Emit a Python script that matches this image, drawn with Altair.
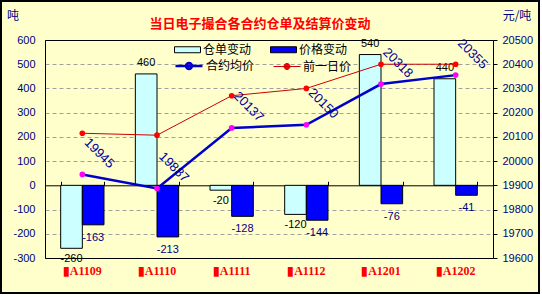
import altair as alt
import pandas as pd

contracts = ["▮A1109", "▮A1110", "▮A1111", "▮A1112", "▮A1201", "▮A1202"]
warehouse_change = [-260, 460, -20, -120, 540, 440]
price_change = [-163, -213, -128, -144, -76, -41]
avg_price = [19945, 19887, 20137, 20150, 20318, 20355]
prev_price = [20115, 20107, 20270, 20300, 20400, 20400]

bar_series = ["仓单变动", "价格变动"]
line_series = ["合约均价", "前一日价"]
title_text = "当日电子撮合各合约仓单及结算价变动"
left_unit = "吨"
right_unit = "元/吨"

CJK = "Noto Sans CJK SC"
NAVY = "#000080"

bars_df = pd.DataFrame({
    "contract": contracts * 2,
    "series": [bar_series[0]] * len(contracts) + [bar_series[1]] * len(contracts),
    "value": warehouse_change + price_change,
})
lines_df = pd.DataFrame({
    "contract": contracts * 2,
    "series": [line_series[0]] * len(contracts) + [line_series[1]] * len(contracts),
    "price": avg_price + prev_price,
})

xscale = alt.Scale(domain=contracts, paddingInner=0.42, paddingOuter=0.21)

xb = alt.X("contract:N", sort=contracts, scale=xscale,
           axis=alt.Axis(orient="bottom", title=None, domain=False, ticks=False, tickSize=0,
                         grid=False, labelAngle=0, labelColor="#FF0000",
                         labelFont="Liberation Serif", labelFontWeight="bold",
                         labelFontSize=12, labelPadding=7))
xt = alt.X("contract:N", sort=contracts, scale=xscale,
           axis=alt.Axis(orient="top", offset=-145.3, title=None, labels=False, ticks=True,
                         tickBand="extent", tickSize=4, tickColor="black", domain=True,
                         domainColor="black", grid=False))
xoff = alt.XOffset("series:N", sort=bar_series,
                   scale=alt.Scale(domain=bar_series, paddingInner=0, paddingOuter=0))

yl = alt.Y("value:Q", scale=alt.Scale(domain=[-300, 600], nice=False, zero=False),
           axis=alt.Axis(orient="left", values=list(range(-300, 601, 100)), title=left_unit,
                         labelExpr="'' + datum.value",
                         titleAngle=0, titleX=-32.5, titleY=-25, titleAlign="center",
                         titleBaseline="middle", titleFont=CJK, titleFontSize=12,
                         titleFontWeight="normal", titleColor=NAVY,
                         labelFont="Liberation Sans", labelFontSize=11, labelColor=NAVY,
                         labelPadding=10, ticks=False, tickSize=0, domain=True,
                         domainColor="black", grid=True, gridColor="#A0A0A0",
                         gridDash=[4, 3],
                         gridOpacity={"condition": {"test": "datum.value == 600 || datum.value == -300 || datum.value == 0", "value": 0}, "value": 1}))

yr = alt.Y("price:Q", scale=alt.Scale(domain=[19600, 20500], nice=False, zero=False),
           axis=alt.Axis(orient="right", values=list(range(19600, 20501, 100)), title=right_unit,
                         labelExpr="'' + datum.value",
                         titleAngle=0, titleX=23.5, titleY=-25, titleAlign="center",
                         titleBaseline="middle", titleFont=CJK, titleFontSize=12,
                         titleFontWeight="normal", titleColor=NAVY,
                         labelFont="Liberation Sans", labelFontSize=11, labelColor=NAVY,
                         labelPadding=5, ticks=True, tickSize=4, tickColor="black",
                         domain=True, domainColor="black", grid=False))

bars = alt.Chart(bars_df).mark_bar(stroke="black", strokeWidth=1).encode(
    x=xb, xOffset=xoff, y=yl,
    fill=alt.Fill("series:N", sort=bar_series,
                  scale=alt.Scale(domain=bar_series, range=["#CCFFFF", "#0000FF"]),
                  legend=alt.Legend(title=None, orient="none", legendX=129, legendY=-4,
                                    direction="horizontal",
                                    symbolType="M-1,-0.23H1V0.23H-1Z", symbolSize=676,
                                    symbolStrokeColor="black", symbolStrokeWidth=1,
                                    labelFont=CJK, labelFontSize=12, labelColor="black",
                                    labelOffset=2, columnPadding=16, padding=0)),
)


def bar_label(series, test, dy, color):
    return alt.Chart(bars_df).transform_filter(
        (alt.datum.series == series) & test
    ).transform_calculate(
        label="'' + datum.value"
    ).mark_text(dy=dy, fontSize=11, font="Liberation Sans", color=color).encode(
        x=xb, xOffset=xoff, y=yl, text="label:N"
    )


lab1p = bar_label(bar_series[0], alt.datum.value >= 0, -11, "black")
lab1n = bar_label(bar_series[0], alt.datum.value < 0, 11, "black")
lab2p = bar_label(bar_series[1], alt.datum.value >= 0, -11, NAVY)
lab2n = bar_label(bar_series[1], alt.datum.value < 0, 13, NAVY)

bar_group = alt.layer(bars, lab1p, lab1n, lab2p, lab2n)

lines = alt.Chart(lines_df).mark_line().encode(
    x=xt, y=yr,
    stroke=alt.Stroke("series:N", sort=line_series,
                      scale=alt.Scale(domain=line_series, range=["#0000CC", "#CC0000"]),
                      legend=alt.Legend(title=None, orient="none", legendX=129, legendY=11,
                                        direction="horizontal",
                                        symbolType="M-1,0H1M-0.22,0A0.22,0.22 0 1,0 0.22,0A0.22,0.22 0 1,0 -0.22,0",
                                        symbolSize=729,
                                        symbolStrokeWidth={"expr": "datum.value == '合约均价' ? 2.5 : 1"},
                                        symbolFillColor={"expr": "datum.value == '合约均价' ? '#FF00FF' : '#FF0000'"},
                                        labelFont=CJK, labelFontSize=12, labelColor="black",
                                        labelOffset=2, columnPadding=16, padding=0)),
    strokeWidth=alt.StrokeWidth("series:N", sort=line_series,
                                scale=alt.Scale(domain=line_series, range=[2.5, 1]),
                                legend=None),
)
points = alt.Chart(lines_df).mark_circle(size=32, opacity=1).encode(
    x=xt, y=yr,
    color=alt.Color("series:N", sort=line_series,
                    scale=alt.Scale(domain=line_series, range=["#FF00FF", "#FF0000"]),
                    legend=None),
)
avg_labels = alt.Chart(lines_df).transform_filter(
    alt.datum.series == line_series[0]
).transform_calculate(
    label="'' + datum.price"
).mark_text(angle=45, dx=-3, dy=-27, fontSize=13, font="Liberation Sans",
            color="#000099").encode(
    x=xt, y=yr, text="label:N"
)

line_group = alt.layer(lines, points, avg_labels)

frame_df = pd.DataFrame({"k": [0]})
white_edge = alt.Chart(frame_df).mark_rect(fillOpacity=0, stroke="white", strokeWidth=8).encode(
    x=alt.value(-49), x2=alt.value(499), y=alt.value(-44), y2=alt.value(258))
border = alt.Chart(frame_df).mark_rect(fillOpacity=0, stroke="black", strokeWidth=2).encode(
    x=alt.value(-44), x2=alt.value(494), y=alt.value(-39), y2=alt.value(253))

chart = alt.layer(bar_group, line_group, white_edge, border).resolve_scale(
    y="independent"
).properties(
    width=448, height=218,
    title=alt.TitleParams(title_text, anchor="middle", frame="group", font=CJK,
                          fontSize=13, fontWeight="bold", color="#FF0000", dx=-9, dy=43),
    autosize=alt.AutoSizeParams(type="none"),
    padding={"left": 45, "top": 40, "right": 49, "bottom": 39},
    background="#FFFFCC",
).configure_view(stroke="black", strokeWidth=1)

chart.save("out.html", embed_options={"renderer": "svg", "actions": False})
